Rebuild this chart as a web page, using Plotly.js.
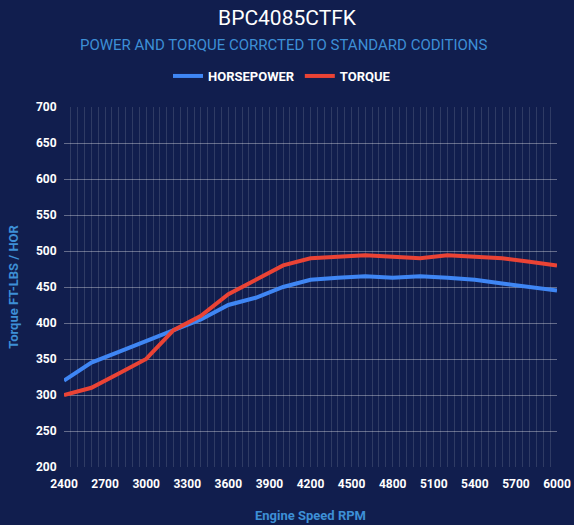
<!DOCTYPE html>
<html>
<head>
<meta charset="utf-8">
<script src="https://cdn.plot.ly/plotly-3.0.1.min.js"></script>
<style>
  html, body { margin: 0; padding: 0; background: #111e4e; }
  #chart { width: 574px; height: 525px; }
</style>
</head>
<body>
<div id="chart"></div>
<script>
// dyno pull, every 200 rpm
const rpm = [2400, 2600, 2800, 3000, 3200, 3400, 3600, 3800, 4000, 4200,
             4400, 4600, 4800, 5000, 5200, 5400, 5600, 5800, 6000];
const horsepower = [320, 345, 360, 375, 390, 405, 425, 435, 450, 460,
                    463, 465, 463, 465, 463, 460, 455, 450, 445];
const torque = [300, 310, 330, 350, 390, 410, 440, 460, 480, 490,
                492, 494, 492, 490, 494, 492, 490, 485, 480];

const bg = '#111e4e';
const font = 'Roboto, "Liberation Sans", Arial, sans-serif';
const plotH = 360; // 525 - 107 - 58

let data = [
    {
        x: rpm, y: horsepower, name: 'HORSEPOWER',
        type: 'scatter', mode: 'lines',
        line: {color: '#3f86f4', width: 4}
    },
    {
        x: rpm, y: torque, name: 'TORQUE',
        type: 'scatter', mode: 'lines',
        line: {color: '#ea4335', width: 4}
    }
];

let layout = {
    width: 574, height: 525,
    paper_bgcolor: bg, plot_bgcolor: bg,
    margin: {l: 64, r: 17, t: 107, b: 58},
    font: {family: font, color: '#ffffff'},
    title: {
        text: 'BPC4085CTFK',
        font: {size: 21, color: '#ffffff', family: font},
        x: 0.5, xanchor: 'center',
        yref: 'container', y: 1 - 18 / 525, yanchor: 'middle'
    },
    annotations: [{
        text: 'POWER AND TORQUE CORRCTED TO STANDARD CODITIONS',
        xref: 'paper', yref: 'paper',
        x: (283 - 64) / 493, y: 1 + (107 - 45) / plotH,
        xanchor: 'center', yanchor: 'middle',
        showarrow: false,
        font: {size: 15, color: '#3d8fd6', family: font}
    }],
    showlegend: true,
    legend: {
        orientation: 'h',
        x: (282 - 64) / 493, xanchor: 'center',
        y: 1 + 31 / plotH, yanchor: 'middle',
        font: {size: 13, color: '#ffffff', family: font, weight: 'bold'},
        itemwidth: 30
    },
    xaxis: {
        range: [2400, 6000],
        tick0: 2400, dtick: 300,
        showgrid: true, gridcolor: 'rgba(255,255,255,0.13)', gridwidth: 1,
        minor: {dtick: 50, showgrid: true, gridcolor: 'rgba(255,255,255,0.13)', gridwidth: 1},
        zeroline: false, showline: false,
        ticks: 'outside', ticklen: 6, tickcolor: bg,
        tickfont: {size: 12, color: '#ffffff', family: font, weight: 'bold'},
        title: {
            text: 'Engine Speed RPM',
            font: {size: 13, color: '#3d8fd6', family: font, weight: 'bold'},
            standoff: 20
        }
    },
    yaxis: {
        range: [200, 700],
        dtick: 50,
        showgrid: true, gridcolor: 'rgba(255,255,255,0.35)', gridwidth: 1,
        zeroline: false, showline: false,
        ticks: 'outside', ticklen: 4, tickcolor: bg,
        tickfont: {size: 12, color: '#ffffff', family: font, weight: 'bold'},
        title: {
            text: 'Torque FT-LBS / HOR',
            font: {size: 13, color: '#3d8fd6', family: font, weight: 'bold'},
            standoff: 14
        }
    }
};

Plotly.newPlot('chart', data, layout, {displayModeBar: false, staticPlot: true});
</script>
</body>
</html>
